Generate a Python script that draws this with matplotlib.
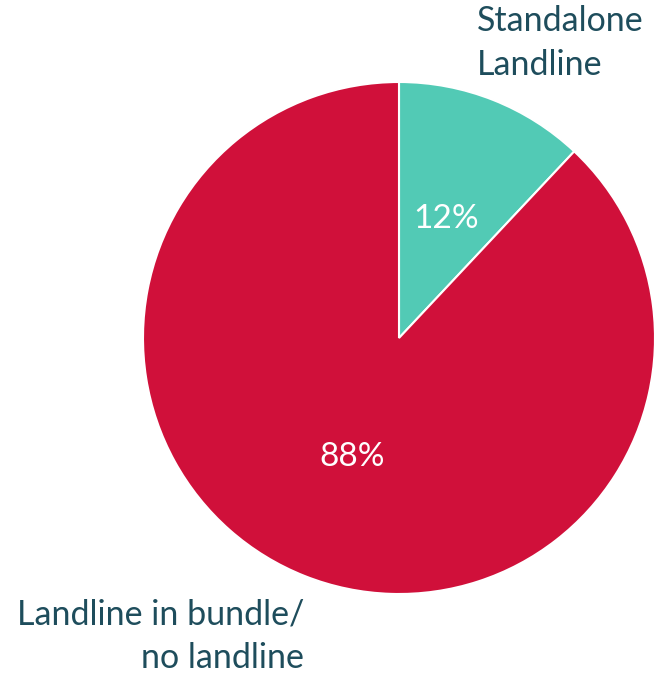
import matplotlib.pyplot as plt

plt.rcParams['font.family'] = ['Lato', 'DejaVu Sans']

categories = ["Standalone\nLandline", "Landline in bundle/\nno landline"]
shares = [12, 88]
colors = ["#52CAB5", "#D0103A"]
text_color = "#1E4D5C"

W, H = 657, 675
fig = plt.figure(figsize=(W / 100, H / 100), dpi=100)

# pie centred at (399, 338) px with a 256 px radius
cx, cy, r = 399, 338, 256
ax = fig.add_axes([(cx - r) / W, (H - cy - r) / H, 2 * r / W, 2 * r / H])
wedges, _, autotexts = ax.pie(
    shares, colors=colors, startangle=90, counterclock=False,
    autopct="%d%%", pctdistance=0.5, radius=1,
    wedgeprops=dict(edgecolor="white", linewidth=1.5),
    textprops=dict(color="white", fontsize=24),
)
ax.set_xlim(-1, 1)
ax.set_ylim(-1, 1)
ax.set_aspect("equal")
ax.axis("off")

fig.text(477 / W, 1 - 43 / H, categories[0], ha="left", va="center",
         color=text_color, fontsize=24.5, linespacing=1.45)
fig.text(304 / W, 1 - 636 / H, categories[1], ha="right", va="center",
         color=text_color, fontsize=24.5, linespacing=1.45, multialignment="right")

fig.savefig("out.png", dpi=100)
